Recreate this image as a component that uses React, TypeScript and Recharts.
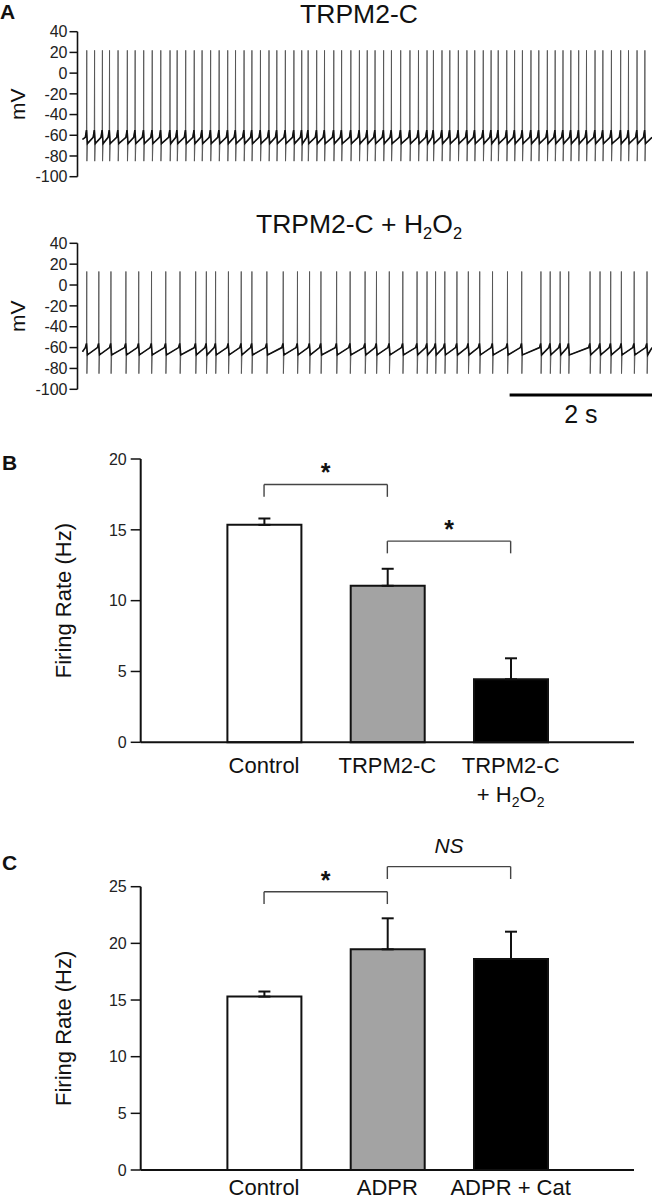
// App.tsx
// Firing traces (A) and firing-rate bar charts (B, C) drawn with Recharts
import React from "react";
import {
    LineChart, Line, XAxis, YAxis, ReferenceLine, BarChart, Bar, Cell, ErrorBar, Label,
} from "recharts";

const FONT = '"Liberation Sans", Arial, Helvetica, sans-serif';

// ---------- Panel A: spike times (s) ----------
const TRACE_LEN = 8;
const SPIKES_TRPM2 = [
    0.06, 0.17, 0.28, 0.38, 0.5, 0.63, 0.74, 0.86, 0.98, 1.1, 1.23, 1.33, 1.45, 1.57, 1.68,
    1.8, 1.92, 2.04, 2.15, 2.27, 2.38, 2.5, 2.62, 2.73, 2.85, 2.97, 3.08, 3.17, 3.29, 3.4,
    3.53, 3.64, 3.77, 3.89, 4.0, 4.11, 4.23, 4.34, 4.47, 4.6, 4.72, 4.84, 4.93, 5.05, 5.16,
    5.28, 5.4, 5.51, 5.63, 5.74, 5.84, 5.96, 6.07, 6.18, 6.3, 6.41, 6.53, 6.64, 6.75, 6.86,
    6.97, 7.08, 7.2, 7.31, 7.43, 7.56, 7.67, 7.79, 7.9,
];
const SPIKES_H2O2 = [
    0.06, 0.23, 0.4, 0.61, 0.79, 0.97, 1.17, 1.37, 1.59, 1.74, 1.87, 2.05, 2.23, 2.38, 2.59,
    2.82, 3.02, 3.19, 3.35, 3.57, 3.76, 3.97, 4.13, 4.31, 4.5, 4.7, 4.84, 4.96, 5.09, 5.26,
    5.42, 5.58, 5.76, 5.97, 6.17, 6.44, 6.57, 6.71, 6.83, 7.13, 7.27, 7.42, 7.57, 7.75, 7.93,
];
// membrane potential levels (mV): [start, peak, trough, after-hyperpol, pre-spike, threshold]
const LEVELS_TRPM2 = [-64, 22, -85, -68, -62, -55];
const LEVELS_H2O2 = [-64, 13, -85, -67, -60, -56];
const MV_TICKS = [-100, -80, -60, -40, -20, 0, 20, 40];

// ---------- Panel B ----------
const B_GROUPS = ["Control", "TRPM2-C", "TRPM2-C + H2O2"];
const B_MEAN = [15.35, 11.05, 4.45];
const B_SEM = [0.45, 1.2, 1.48];
const B_TICKS = [0, 5, 10, 15, 20];
const B_BRACKETS = [
    { from: "Control", to: "TRPM2-C", top: 18.2, foot: 17.33, text: "*" },
    { from: "TRPM2-C", to: "TRPM2-C + H2O2", top: 14.2, foot: 13.34, text: "*" },
];

// ---------- Panel C ----------
const C_GROUPS = ["Control", "ADPR", "ADPR + Cat"];
const C_MEAN = [15.3, 19.47, 18.62];
const C_SEM = [0.45, 2.74, 2.41];
const C_TICKS = [0, 5, 10, 15, 20, 25];
const C_BRACKETS = [
    { from: "Control", to: "ADPR", top: 24.56, foot: 23.47, text: "*" },
    { from: "ADPR", to: "ADPR + Cat", top: 26.77, foot: 25.68, text: "NS" },
];

const BAR_FILLS = ["#ffffff", "#a3a3a3", "#000000"];

// v = full trace (spikes included); base = same trace without the spike excursions
function buildTrace(spikes: number[], levels: number[]) {
    const [start, peak, trough, ahp, pre, thresh] = levels;
    const pts: { t: number; v: number; base: number | null }[] = [{ t: 0, v: start, base: start }];
    spikes.forEach((s) => {
        pts.push(
            { t: s - 0.02, v: pre, base: pre },
            { t: s - 0.004, v: thresh, base: thresh },
            { t: s, v: peak, base: null },
            { t: s + 0.002, v: trough, base: null },
            { t: s + 0.01, v: ahp, base: ahp },
        );
    });
    pts.push({ t: TRACE_LEN, v: pre, base: pre });
    return pts;
}

const traceTrpm2 = buildTrace(SPIKES_TRPM2, LEVELS_TRPM2);
const traceH2o2 = buildTrace(SPIKES_H2O2, LEVELS_H2O2);

const barData = (groups: string[], mean: number[], sem: number[]) =>
    groups.map((name, i) => ({ name, mean: mean[i], err: [0, sem[i]] }));

const dataB = barData(B_GROUPS, B_MEAN, B_SEM);
const dataC = barData(C_GROUPS, C_MEAN, C_SEM);

// positioned html text, placed by its baseline
const Txt = ({ x, base, size, children, bold, center, width = 300 }: any) => (
    <div
        style={{
            position: "absolute",
            left: center ? x - width / 2 : x,
            width: center ? width : undefined,
            top: base - 0.8465 * size,
            fontSize: size,
            lineHeight: 1,
            fontWeight: bold ? "bold" : "normal",
            textAlign: center ? "center" : "left",
            whiteSpace: "nowrap",
            color: "#111",
        }}
    >
        {children}
    </div>
);

const Sub = ({ children }: any) => (
    <span style={{ fontSize: "0.62em", verticalAlign: "-0.38em" }}>{children}</span>
);

const makeTick = (baseOffset: number) => ({ x, y, payload }: any) => {
    const v: string = payload.value;
    const style = { fontSize: 22, fill: "#111", fontFamily: FONT };
    if (v.endsWith("+ H2O2")) {
        return (
            <g>
                <text x={x} y={y + baseOffset} textAnchor="middle" {...style}>TRPM2-C</text>
                <text x={x} y={y + baseOffset + 29} textAnchor="middle" {...style}>
                    <tspan>+ H</tspan>
                    <tspan dy={5} fontSize={14}>2</tspan>
                    <tspan dy={-5}>O</tspan>
                    <tspan dy={5} fontSize={14}>2</tspan>
                </text>
            </g>
        );
    }
    return (
        <text x={x} y={y + baseOffset} textAnchor="middle" {...style}>{v}</text>
    );
};

const TickB = makeTick(30.5);
const TickC = makeTick(25);

const bracketLines = (b: any, i: number) => {
    const common = { stroke: "#444", strokeWidth: 1.4, ifOverflow: "visible" as const };
    const star = b.text === "*";
    return [
        <ReferenceLine key={`l${i}`} {...common} segment={[{ x: b.from, y: b.foot }, { x: b.from, y: b.top }]} />,
        <ReferenceLine
            key={`h${i}`}
            {...common}
            segment={[{ x: b.from, y: b.top }, { x: b.to, y: b.top }]}
            label={{
                value: b.text,
                position: "top",
                offset: star ? 3 : 14,
                fontSize: star ? 25 : 21,
                fontWeight: star ? "bold" : "normal",
                fontStyle: star ? "normal" : "italic",
                fill: "#111",
            }}
        />,
        <ReferenceLine key={`r${i}`} {...common} segment={[{ x: b.to, y: b.top }, { x: b.to, y: b.foot }]} />,
    ];
};

const TraceChart = ({ data, top, height, marginTop, marginBottom, children }: any) => (
    <div style={{ position: "absolute", left: 0, top }}>
        <LineChart width={652} height={height} data={data}
            margin={{ top: marginTop, right: 0, bottom: marginBottom, left: 0 }}>
            <XAxis type="number" dataKey="t" domain={[-0.07, TRACE_LEN]} hide allowDataOverflow />
            <YAxis
                type="number"
                domain={[-100, 40]}
                ticks={MV_TICKS}
                width={77.5}
                interval={0}
                axisLine={{ stroke: "#111", strokeWidth: 1.6 }}
                tickLine={{ stroke: "#111", strokeWidth: 1.5 }}
                tickSize={8}
                tickMargin={2}
                tick={{ fontSize: 16, fill: "#222", fontFamily: FONT }}
            >
                <Label value="mV" angle={-90} position="center" dx={-21}
                    style={{ fontSize: 21, fill: "#111", fontFamily: FONT }} />
            </YAxis>
            <Line type="linear" dataKey="v" stroke="#555" strokeWidth={0.9} dot={false}
                isAnimationActive={false} />
            <Line type="linear" dataKey="base" stroke="#111" strokeWidth={1.6} dot={false}
                connectNulls isAnimationActive={false} />
            {children}
        </LineChart>
    </div>
);

const RateChart = ({ data, top, height, marginTop, marginBottom, axisHeight, max, ticks, brackets, tick }: any) => (
    <div style={{ position: "absolute", left: 0, top }}>
        <BarChart width={652} height={height} data={data}
            margin={{ top: marginTop, right: 18, bottom: marginBottom, left: 0 }}>
            <XAxis
                dataKey="name"
                type="category"
                padding={{ left: 61.7, right: 61.7 }}
                axisLine={{ stroke: "#111", strokeWidth: 2 }}
                tickLine={false}
                tickSize={0}
                tickMargin={0}
                interval={0}
                height={axisHeight}
                tick={tick}
            />
            <YAxis
                type="number"
                domain={[0, max]}
                ticks={ticks}
                interval={0}
                width={140.7}
                axisLine={{ stroke: "#111", strokeWidth: 2 }}
                tickLine={{ stroke: "#111", strokeWidth: 1.5 }}
                tickSize={10}
                tickMargin={4}
                tick={{ fontSize: 16, fill: "#222", fontFamily: FONT }}
            >
                <Label value="Firing Rate (Hz)" angle={-90} position="center" dx={-7.5}
                    style={{ fontSize: 22, fill: "#111", fontFamily: FONT }} />
            </YAxis>
            <Bar dataKey="mean" barSize={74} stroke="#111" strokeWidth={2} isAnimationActive={false}>
                {data.map((_: any, i: number) => <Cell key={i} fill={BAR_FILLS[i]} />)}
                <ErrorBar dataKey="err" width={6} stroke="#111" strokeWidth={2} direction="y" />
            </Bar>
            {brackets.flatMap(bracketLines)}
        </BarChart>
    </div>
);

export default function App() {
    return (
        <div style={{
            position: "absolute", left: 0, top: 0, width: 652, height: 1200,
            background: "#fff", overflow: "hidden", fontFamily: FONT,
        }}>
            <Txt x={0} base={18.3} size={21} bold>A</Txt>
            <Txt x={2} base={469.5} size={21} bold>B</Txt>
            <Txt x={2} base={869.5} size={21} bold>C</Txt>

            <Txt x={359} base={23} size={26.5} center>TRPM2-C</Txt>
            <Txt x={359} base={233} size={26.5} center>
                TRPM2-C + H<Sub>2</Sub>O<Sub>2</Sub>
            </Txt>

            <TraceChart data={traceTrpm2} top={0} height={200} marginTop={31.7} marginBottom={23.3} />
            <TraceChart data={traceH2o2} top={200} height={230} marginTop={43.3} marginBottom={40.7}>
                <ReferenceLine
                    segment={[{ x: 6, y: -105.5 }, { x: TRACE_LEN, y: -105.5 }]}
                    stroke="#000"
                    strokeWidth={3}
                    ifOverflow="visible"
                    label={{ value: "2 s", position: "bottom", offset: 10, fontSize: 25, fill: "#111" }}
                />
            </TraceChart>

            <RateChart data={dataB} top={440} height={380} marginTop={19} marginBottom={17.7}
                axisHeight={60} max={20} ticks={B_TICKS} brackets={B_BRACKETS} tick={<TickB />} />
            <RateChart data={dataC} top={800} height={400} marginTop={86.7} marginBottom={0}
                axisHeight={30} max={25} ticks={C_TICKS} brackets={C_BRACKETS} tick={<TickC />} />
        </div>
    );
}
